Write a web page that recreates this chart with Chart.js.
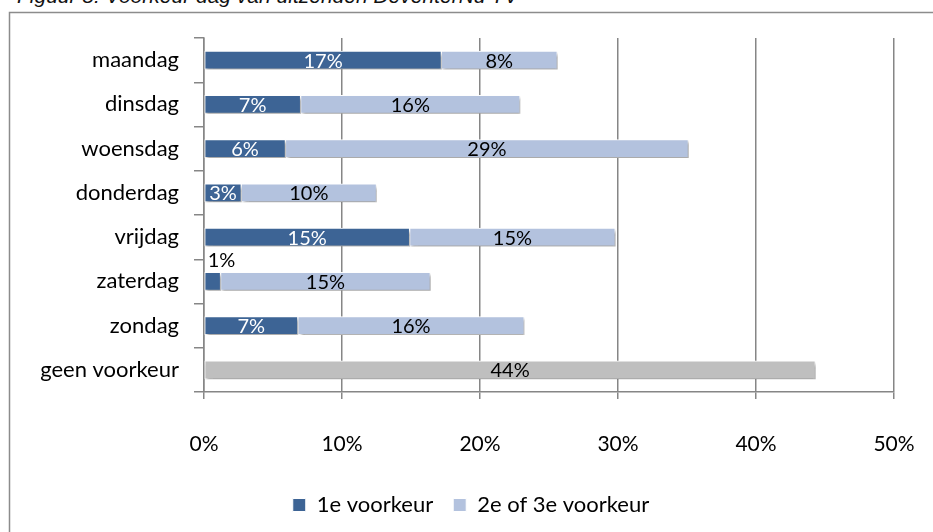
<!DOCTYPE html>
<html>
<head>
<meta charset="utf-8">
<script src="https://cdn.jsdelivr.net/npm/chart.js@4.4.1/dist/chart.umd.min.js"></script>
<style>
  body { margin: 0; background: #fff; overflow: hidden; }
  #wrap { position: relative; width: 933px; height: 532px; overflow: hidden; }
  #title {
    position: absolute; left: 17px; top: -15px;
    font: italic 21px "Liberation Sans", Arial, sans-serif;
    line-height: 21px; color: #111; white-space: nowrap;
  }
  canvas { position: absolute; left: 0; top: 0; }
</style>
</head>
<body>
<div id="wrap">
  <div id="title">Figuur 8: Voorkeur dag van uitzenden DeventerNu TV</div>
  <canvas id="chart" width="933" height="532"></canvas>
</div>
<script>
const days = ['maandag', 'dinsdag', 'woensdag', 'donderdag', 'vrijdag', 'zaterdag', 'zondag', 'geen voorkeur'];
const firstChoice = [17.2, 7.0, 5.9, 2.7, 14.9, 1.2, 6.8, null];
const laterChoice = [8.4, 15.9, 29.2, 9.8, 14.9, 15.2, 16.4, null];
const noChoice = [null, null, null, null, null, null, null, 44.3];
const xTicks = [0, 10, 20, 30, 40, 50];

const FONT = 'Lato, "Open Sans", sans-serif';
const GRID = '#868686';

// soft drop shadow under the bars, like the office chart
const barShadow = {
  id: 'barShadow',
  beforeDatasetsDraw(chart) {
    const ctx = chart.ctx;
    ctx.save();
    ctx.shadowColor = 'rgba(0,0,0,0.35)';
    ctx.shadowOffsetX = 2;
    ctx.shadowOffsetY = 3;
    ctx.shadowBlur = 3;
  },
  afterDatasetsDraw(chart) {
    chart.ctx.restore();
  }
};

// percentage labels inside the segments
const segmentLabels = {
  id: 'segmentLabels',
  afterDatasetsDraw(chart) {
    const ctx = chart.ctx;
    ctx.save();
    ctx.font = '20px ' + FONT;
    ctx.textBaseline = 'middle';
    chart.data.datasets.forEach((ds, di) => {
      const meta = chart.getDatasetMeta(di);
      meta.data.forEach((bar, i) => {
        const v = ds.data[i];
        if (v == null) return;
        const txt = Math.round(v) + '%';
        const left = Math.min(bar.x, bar.base);
        const w = Math.abs(bar.x - bar.base);
        if (w < 25) {
          ctx.fillStyle = '#000';
          ctx.textAlign = 'left';
          ctx.fillText(txt, left + 3, bar.y - 21);
        } else {
          ctx.fillStyle = di === 0 ? '#fff' : '#000';
          ctx.textAlign = 'center';
          ctx.fillText(txt, left + w / 2, bar.y + 1);
        }
      });
    });
    ctx.restore();
  }
};

// outer frame of the chart object and legend placement
const frame = {
  id: 'frame',
  afterLayout(chart) {
    chart.legend.left += 24;
    chart.legend.right += 24;
  },
  beforeDraw(chart) {
    const ctx = chart.ctx;
    ctx.save();
    ctx.strokeStyle = '#8c8c8c';
    ctx.lineWidth = 1.5;
    ctx.strokeRect(9.5, 12.5, 1000, 1000);
    ctx.restore();
  }
};

const barStyle = { barThickness: 18, borderColor: '#fff', borderWidth: 1, borderSkipped: false };

new Chart(document.getElementById('chart'), {
  type: 'bar',
  data: {
    labels: days,
    datasets: [
      { label: '1e voorkeur', data: firstChoice, backgroundColor: '#3D6495', ...barStyle },
      { label: '2e of 3e voorkeur', data: laterChoice, backgroundColor: '#B3C2DE', ...barStyle },
      { label: 'geen voorkeur', data: noChoice, backgroundColor: '#BFBFBF', ...barStyle }
    ]
  },
  options: {
    indexAxis: 'y',
    responsive: false,
    animation: false,
    layout: { padding: { top: 38, right: 39, left: 0, bottom: 6 } },
    plugins: {
      legend: {
        position: 'bottom',
        labels: {
          color: '#000',
          font: { family: FONT, size: 22 },
          boxWidth: 13,
          boxHeight: 13,
          padding: 20,
          filter: item => item.datasetIndex < 2
        }
      },
      tooltip: { enabled: false }
    },
    scales: {
      x: {
        stacked: true,
        min: 0,
        max: 50,
        afterBuildTicks: scale => { scale.ticks = xTicks.map(v => ({ value: v })); },
        afterFit: scale => {
          scale.height = 82;
          scale.paddingLeft = 0;
          scale.paddingRight = 0;
        },
        grid: { color: GRID, tickLength: 7, lineWidth: 1.5 },
        border: { color: GRID, width: 1.5 },
        ticks: {
          color: '#000',
          padding: 33,
          font: { family: FONT, size: 21 },
          callback: v => v + '%'
        }
      },
      y: {
        stacked: true,
        afterFit: scale => { scale.width = 204; },
        grid: { drawOnChartArea: false, color: GRID, tickLength: 10, lineWidth: 1.5 },
        border: { color: GRID, width: 1.5 },
        ticks: {
          color: '#000',
          padding: 15,
          font: { family: FONT, size: 22 }
        }
      }
    }
  },
  plugins: [frame, barShadow, segmentLabels]
});
</script>
</body>
</html>
